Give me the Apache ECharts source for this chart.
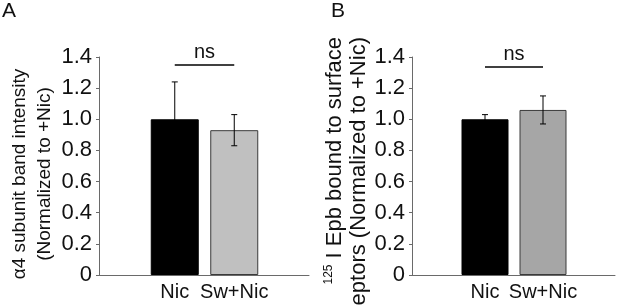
<!DOCTYPE html>
<html>
<head>
<meta charset="utf-8">
<script src="https://cdn.jsdelivr.net/npm/echarts@6/dist/echarts.min.js"></script>
<style>
html,body{margin:0;padding:0;background:#fff;}
#main{width:617px;height:305px;}
</style>
</head>
<body>
<div id="main"></div>
<script>
var categories = ['Nic', 'Sw+Nic'];
var yTickLabels = ['0', '0.2', '0.4', '0.6', '0.8', '1.0', '1.2', '1.4'];
// panel A: a4 subunit band intensity
var meanA = [1.0, 0.93];
var errA = [0.24, 0.1];
// panel B: 125I Epb binding
var meanB = [1.0, 1.06];
var errB = [0.03, 0.09];
var nsLevelA = 1.35;
var nsLevelB = 1.34;

var axisColor = '#6a6a6a';
var textColor = '#111';

function errData(mean, err) {
	return mean.map(function (m, i) { return [i, m - err[i], m + err[i]]; });
}

function errorItem(params, api) {
	var top = api.coord([api.value(0), api.value(2)]);
	var bot = api.coord([api.value(0), api.value(1)]);
	var cap = 3;
	var st = { stroke: '#000', lineWidth: 1 };
	return {
		type: 'group',
		children: [
			{ type: 'line', shape: { x1: top[0], y1: top[1], x2: bot[0], y2: bot[1] }, style: st },
			{ type: 'line', shape: { x1: top[0] - cap, y1: top[1], x2: top[0] + cap, y2: top[1] }, style: st },
			{ type: 'line', shape: { x1: bot[0] - cap, y1: bot[1], x2: bot[0] + cap, y2: bot[1] }, style: st }
		]
	};
}

function barData(mean, colors) {
	return mean.map(function (m, i) {
		return { value: m, itemStyle: { color: colors[i], borderColor: i ? '#3a3a3a' : '#000', borderWidth: 1 } };
	});
}

function nsLine(level) {
	return {
		silent: true,
		symbol: 'none',
		lineStyle: { color: '#000', width: 1.5, type: 'solid' },
		label: { show: true, formatter: 'ns', position: 'middle', distance: 2, fontSize: 20, color: textColor },
		data: [[{ coord: [0, level] }, { coord: [1, level] }]]
	};
}

function frameY(grid, name, gap, nameStyle) {
	return {
		gridIndex: grid, type: 'value', min: 0, max: 1.4, interval: 0.2,
		axisLine: { show: true, lineStyle: { color: axisColor, width: 1 } },
		axisTick: { show: true, length: 3, lineStyle: { color: axisColor } },
		splitLine: { show: false },
		axisLabel: {
			fontSize: 22, color: textColor, margin: 7,
			formatter: function (v) { return yTickLabels[Math.round(v / 0.2)]; }
		},
		name: name, nameLocation: 'middle', nameRotate: 90, nameGap: gap,
		nameTextStyle: nameStyle
	};
}

function frameX(grid) {
	return {
		gridIndex: grid, type: 'value', min: 0, max: 1,
		axisLine: { show: true, onZero: false, lineStyle: { color: axisColor, width: 1 } },
		axisTick: { show: false }, axisLabel: { show: false }, splitLine: { show: false }
	};
}

function barX(grid) {
	return {
		gridIndex: grid, type: 'category', data: categories,
		axisLine: { show: false }, axisTick: { show: false },
		axisLabel: { fontSize: 20, color: textColor, margin: 7, interval: 0, hideOverlap: false }
	};
}

function hiddenY(grid) {
	return { gridIndex: grid, type: 'value', min: 0, max: 1.4, show: false };
}

var myChart = echarts.init(document.getElementById('main'));
var option = {
	backgroundColor: '#fff',
	animation: false,
	textStyle: { fontFamily: 'Liberation Sans, Arial, sans-serif' },
	title: [
		{ text: 'A', left: 2, top: 1, padding: 0, textStyle: { fontSize: 21, fontWeight: 'normal', color: textColor } },
		{ text: 'B', left: 331, top: 1, padding: 0, textStyle: { fontSize: 21, fontWeight: 'normal', color: textColor } }
	],
	grid: [
		{ left: 99, top: 57, width: 210, height: 218, outerBoundsMode: 'none' },
		{ left: 145, top: 57, width: 119, height: 218, outerBoundsMode: 'none' },
		{ left: 412, top: 57, width: 203, height: 218, outerBoundsMode: 'none' },
		{ left: 456, top: 57, width: 116, height: 218, outerBoundsMode: 'none' }
	],
	xAxis: [frameX(0), barX(1), frameX(2), barX(3)],
	yAxis: [
		frameY(0, '\u03b14 subunit band intensity\n(Normalized to +Nic)', 41,
			{ fontSize: 19, lineHeight: 25, color: textColor, padding: [0, 16, 0, 0] }),
		hiddenY(1),
		frameY(2, '{s|125}{t| I Epb bound to surface}\n{t|receptors (Normalized to +Nic)}', 29,
			{ fontSize: 22, lineHeight: 24, color: textColor, padding: [0, 41, 0, 0],
			  rich: {
				s: { fontSize: 12, color: textColor, verticalAlign: 'top', lineHeight: 24, align: 'right' },
				t: { fontSize: 22, color: textColor, lineHeight: 24, align: 'right' }
			  } }),
		hiddenY(3)
	],
	series: [
		{
			type: 'bar', xAxisIndex: 1, yAxisIndex: 1, barWidth: 48,
			data: barData(meanA, ['#000000', '#c0c0c0']),
			markLine: nsLine(nsLevelA)
		},
		{
			type: 'custom', xAxisIndex: 1, yAxisIndex: 1, renderItem: errorItem,
			data: errData(meanA, errA), z: 5
		},
		{
			type: 'bar', xAxisIndex: 3, yAxisIndex: 3, barWidth: 47,
			data: barData(meanB, ['#000000', '#a6a6a6']),
			markLine: nsLine(nsLevelB)
		},
		{
			type: 'custom', xAxisIndex: 3, yAxisIndex: 3, renderItem: errorItem,
			data: errData(meanB, errB), z: 5
		}
	]
};
myChart.setOption(option);
</script>
</body>
</html>
